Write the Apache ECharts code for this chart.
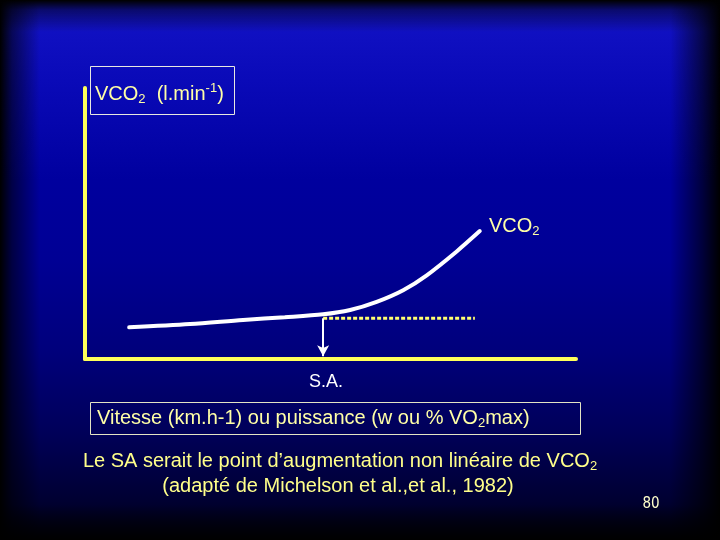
<!DOCTYPE html>
<html>
<head>
<meta charset="utf-8">
<script src="https://cdn.jsdelivr.net/npm/echarts@6/dist/echarts.min.js"></script>
<style>
  html, body { margin: 0; padding: 0; }
  body {
    width: 720px; height: 540px; overflow: hidden;
    background:
      linear-gradient(to right, #000 0px, rgba(0,0,0,0.55) 12px, rgba(0,0,0,0) 40px, rgba(0,0,0,0) 670px, rgba(0,0,0,0.6) 702px, #000 720px),
      linear-gradient(to bottom, #000 0px, rgba(0,0,0,0.45) 10px, rgba(0,0,0,0) 32px, rgba(0,0,0,0) 505px, rgba(0,0,0,0.6) 528px, #000 540px),
      linear-gradient(to bottom, #1414c8 0px, #0a0ab8 80px, #00009e 180px, #000094 260px, #00007c 350px, #00005a 430px, #000032 500px, #000010 540px);
  }
  #chart { width: 720px; height: 540px; }
</style>
</head>
<body>
<div id="chart"></div>
<script>
// Curve values (x: 0-100 along the abscissa, y: 0-100 along the ordinate)
var curveX = [9.0, 21.4, 32.2, 40.7, 48.5, 54.0, 59.4, 64.8, 69.6, 75.7, 80.4];
var curveY = [11.7, 12.9, 14.4, 15.4, 16.5, 18.1, 21.1, 25.4, 30.9, 39.7, 47.2];
// Seuil anaérobie (S.A.) marker
var saX = 48.5;
var saY = 15.0;
var dottedEndX = 79.4;

var yTitle = 'VCO2 (l.min-1)';
var xTitle = 'Vitesse (km.h-1) ou puissance (w ou % VO2max)';
var seriesLabel = 'VCO2';
var saLabel = 'S.A.';
var caption1 = 'Le SA serait le point d’augmentation non linéaire de VCO2';
var caption2 = '(adapté de Michelson et al.,et al., 1982)';
var pageNumber = '80';

var FONT = '"Liberation Sans", Arial, sans-serif';
var AXIS_YELLOW = '#ffff5a';
var PALE = '#ffffa6';
var CAPTION = '#ffff8a';

var curveData = curveX.map(function (x, i) { return [x, curveY[i]]; });

function richBase(color) {
  return {
    n: { fontSize: 20, lineHeight: 24, fontFamily: FONT, fill: color, color: color },
    s: { fontSize: 13, lineHeight: 11, verticalAlign: 'bottom', fontFamily: FONT, fill: color, color: color },
    u: { fontSize: 13, lineHeight: 13, verticalAlign: 'top', fontFamily: FONT, fill: color, color: color }
  };
}

var chart = echarts.init(document.getElementById('chart'), null, { renderer: 'canvas' });
chart.setOption({
  backgroundColor: 'transparent',
  animation: false,
  grid: { left: 85, top: 88, width: 491, height: 271 },
  xAxis: {
    type: 'value', min: 0, max: 100,
    axisLine: { show: true, lineStyle: { color: AXIS_YELLOW, width: 4 } },
    axisTick: { show: false }, axisLabel: { show: false }, splitLine: { show: false }
  },
  yAxis: {
    type: 'value', min: 0, max: 100,
    axisLine: { show: true, lineStyle: { color: AXIS_YELLOW, width: 4 } },
    axisTick: { show: false }, axisLabel: { show: false }, splitLine: { show: false }
  },
  series: [
    {
      type: 'line',
      data: curveData,
      smooth: 0.3,
      showSymbol: false,
      lineStyle: { color: '#ffffff', width: 4, cap: 'round' },
      z: 3
    },
    {
      type: 'line',
      data: [[saX, saY], [dottedEndX, saY]],
      showSymbol: false,
      lineStyle: { color: '#ffff70', width: 3, type: [4, 2] },
      z: 2,
      markLine: {
        silent: true,
        animation: false,
        label: { show: false },
        lineStyle: { color: '#ffffff', width: 2, type: 'solid' },
        symbolSize: [9, 11],
        data: [[
          { coord: [saX, saY], symbol: 'none' },
          { coord: [saX, 1.0], symbol: 'arrow' }
        ]]
      }
    }
  ],
  graphic: [
    {
      type: 'rect', shape: { x: 90.5, y: 66.5, width: 144, height: 48 },
      style: { fill: 'none', stroke: '#e8e8e0', lineWidth: 1 }
    },
    {
      type: 'text', x: 95, y: 94,
      style: {
        text: '{n|VCO}{s|2}{n|  (l.min}{u|-1}{n|)}',
        rich: richBase(PALE), verticalAlign: 'middle', align: 'left'
      }
    },
    {
      type: 'text', x: 489, y: 226,
      style: {
        text: '{n|VCO}{s|2}',
        rich: richBase(PALE), verticalAlign: 'middle', align: 'left'
      }
    },
    {
      type: 'text', x: 326, y: 382,
      style: {
        text: saLabel, fill: '#ffffff', font: '18px ' + FONT,
        verticalAlign: 'middle', align: 'center'
      }
    },
    {
      type: 'rect', shape: { x: 90.5, y: 402.5, width: 490, height: 32 },
      style: { fill: 'none', stroke: '#e4e4c4', lineWidth: 1 }
    },
    {
      type: 'text', x: 97, y: 418,
      style: {
        text: '{n|Vitesse (km.h-1) ou puissance (w ou % VO}{s|2}{n|max)}',
        rich: richBase(PALE), verticalAlign: 'middle', align: 'left'
      }
    },
    {
      type: 'text', x: 340, y: 461,
      style: {
        text: '{n|Le SA serait le point d’augmentation non linéaire de VCO}{s|2}',
        rich: richBase(CAPTION), verticalAlign: 'middle', align: 'center'
      }
    },
    {
      type: 'text', x: 338, y: 486,
      style: {
        text: '{n|' + caption2 + '}',
        rich: richBase(CAPTION), verticalAlign: 'middle', align: 'center'
      }
    },
    {
      type: 'text', x: 651, y: 504,
      style: {
        text: pageNumber, fill: '#ffffcc',
        font: '15px "Liberation Sans Narrow", "DejaVu Sans Condensed", ' + FONT,
        verticalAlign: 'middle', align: 'center'
      }
    }
  ]
});
</script>
</body>
</html>
